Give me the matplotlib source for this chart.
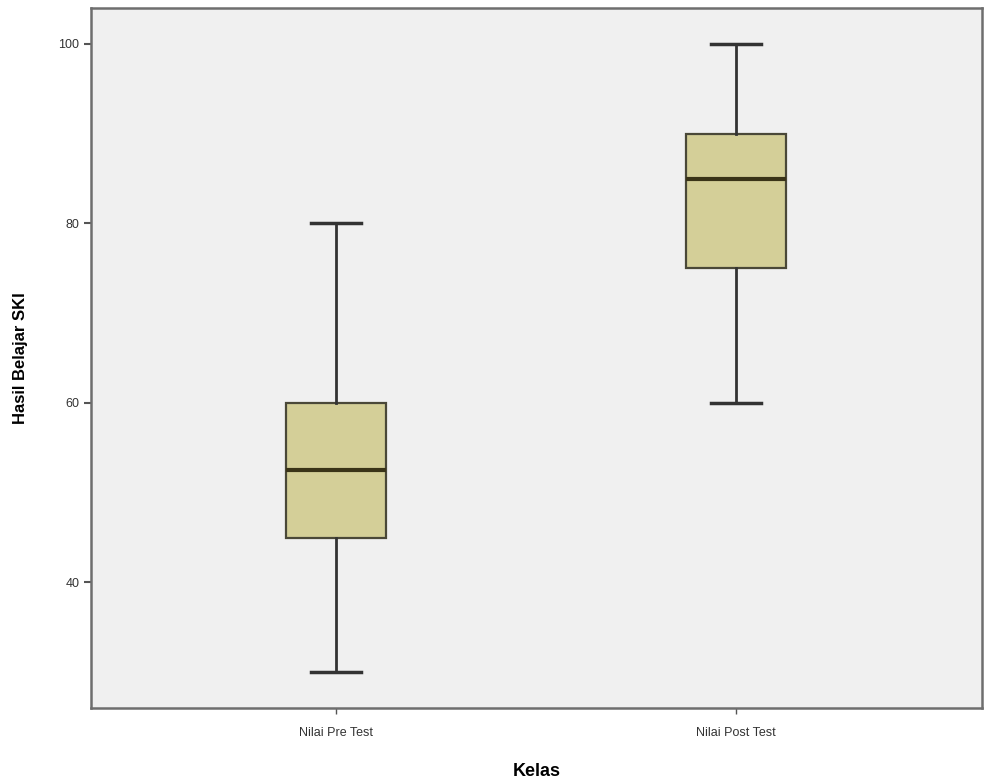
import matplotlib.pyplot as plt

# Data
categories = ["Nilai Pre Test", "Nilai Post Test"]
whisker_low = [30, 60]
q1 = [45, 75]
median = [52.5, 85]
q3 = [60, 90]
whisker_high = [80, 100]
y_ticks = [40, 60, 80, 100]

stats = []
for i, name in enumerate(categories):
    stats.append({
        "label": name,
        "whislo": whisker_low[i],
        "q1": q1[i],
        "med": median[i],
        "q3": q3[i],
        "whishi": whisker_high[i],
        "fliers": [],
    })

plt.rcParams['font.family'] = ['Liberation Sans', 'DejaVu Sans']

fig = plt.figure(figsize=(9.85, 7.84), dpi=100)
ax = fig.add_axes([0.0924, 0.0969, 0.9046, 0.8929])
ax.set_facecolor('#f0f0f0')

ax.bxp(stats, positions=[1, 2], widths=0.25, capwidths=0.125,
       patch_artist=True, showfliers=False,
       boxprops=dict(facecolor='#d4cf98', edgecolor='#4a4838', linewidth=1.6),
       medianprops=dict(color='#3a3418', linewidth=3),
       whiskerprops=dict(color='#333333', linewidth=2),
       capprops=dict(color='#333333', linewidth=2.5))

ax.set_xlim(0.388, 2.615)
ax.set_ylim(26, 104)
ax.set_yticks(y_ticks)
ax.set_yticklabels([str(t) for t in y_ticks], fontsize=9, color='#333333')
ax.set_xticks([1, 2])
ax.set_xticklabels(categories, fontsize=9, color='#333333')
ax.tick_params(axis='y', length=5, width=1.5, color='#555555')
ax.tick_params(axis='x', length=4, width=1, color='#555555', pad=10)

for s in ax.spines.values():
    s.set_color('#6e6e6e')
    s.set_linewidth(1.8)

ax.set_ylabel("Hasil Belajar SKI", fontsize=12, fontweight='bold', labelpad=22)
ax.set_xlabel("Kelas", fontsize=13, fontweight='bold', labelpad=17)

fig.savefig('out.png', dpi=100)
